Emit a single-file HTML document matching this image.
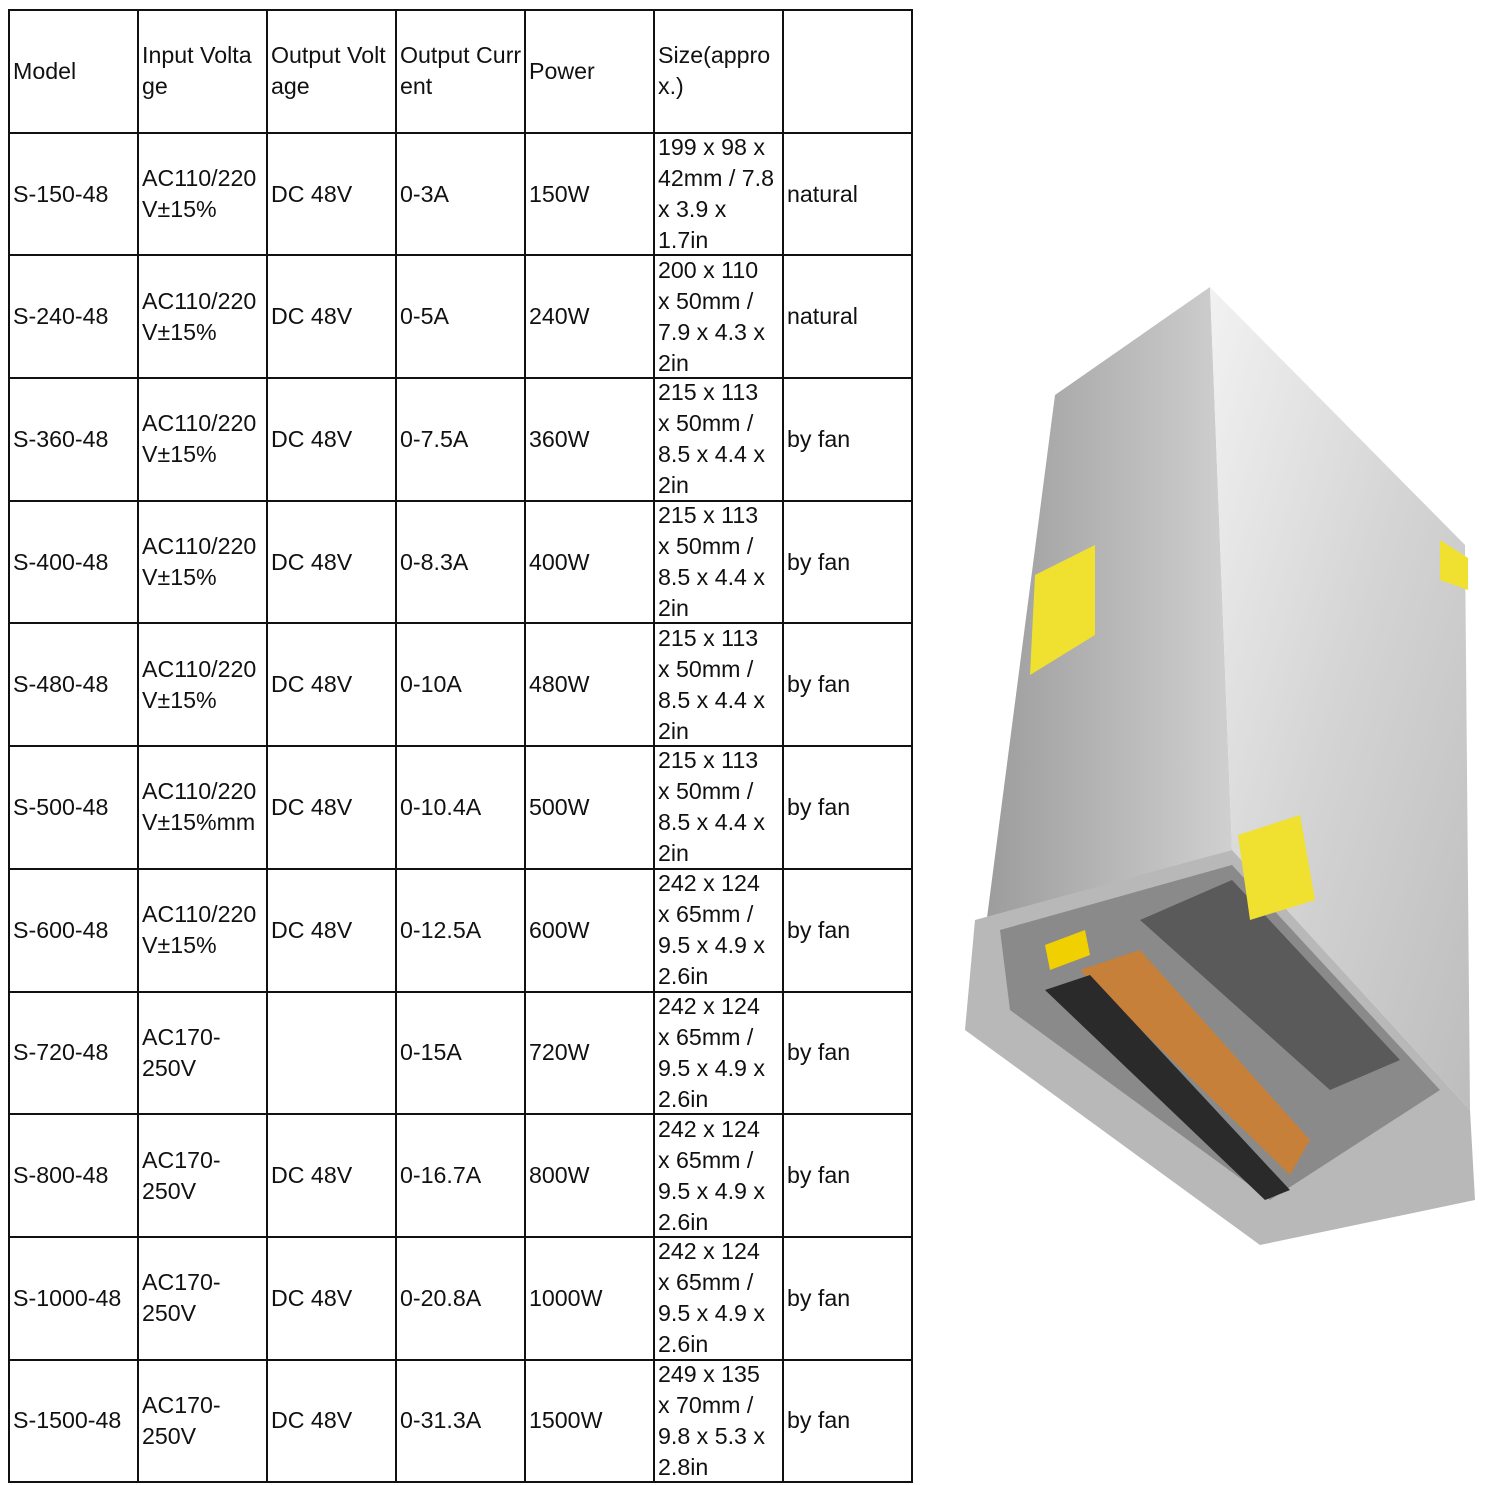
<!DOCTYPE html>
<html><head><meta charset="utf-8"><style>
html,body{margin:0;padding:0;background:#fff;width:1500px;height:1485px;overflow:hidden}
#t{position:absolute;left:8px;top:9px;display:grid;grid-template-columns:repeat(7,129px);grid-template-rows:repeat(12,122.7px);border-left:2px solid #111;border-top:2px solid #111}
#t div{box-sizing:border-box;border-right:2px solid #111;border-bottom:2px solid #111;display:flex;align-items:center;padding-left:3px;font-family:"Liberation Sans",sans-serif;font-size:23.2px;line-height:31px;color:#111;letter-spacing:0;white-space:nowrap;overflow:hidden}
svg{position:absolute;left:0;top:0}
</style></head><body>
<div id="t">
<div>Model</div><div>Input Volta<br>ge</div><div>Output Volt<br>age</div><div>Output Curr<br>ent</div><div>Power</div><div>Size(appro<br>x.)</div><div></div>
<div>S-150-48</div><div>AC110/220<br>V±15%</div><div>DC 48V</div><div>0-3A</div><div>150W</div><div>199 x 98 x<br>42mm / 7.8<br>x 3.9 x<br>1.7in</div><div>natural</div>
<div>S-240-48</div><div>AC110/220<br>V±15%</div><div>DC 48V</div><div>0-5A</div><div>240W</div><div>200 x 110<br>x 50mm /<br>7.9 x 4.3 x<br>2in</div><div>natural</div>
<div>S-360-48</div><div>AC110/220<br>V±15%</div><div>DC 48V</div><div>0-7.5A</div><div>360W</div><div>215 x 113<br>x 50mm /<br>8.5 x 4.4 x<br>2in</div><div>by fan</div>
<div>S-400-48</div><div>AC110/220<br>V±15%</div><div>DC 48V</div><div>0-8.3A</div><div>400W</div><div>215 x 113<br>x 50mm /<br>8.5 x 4.4 x<br>2in</div><div>by fan</div>
<div>S-480-48</div><div>AC110/220<br>V±15%</div><div>DC 48V</div><div>0-10A</div><div>480W</div><div>215 x 113<br>x 50mm /<br>8.5 x 4.4 x<br>2in</div><div>by fan</div>
<div>S-500-48</div><div>AC110/220<br>V±15%mm</div><div>DC 48V</div><div>0-10.4A</div><div>500W</div><div>215 x 113<br>x 50mm /<br>8.5 x 4.4 x<br>2in</div><div>by fan</div>
<div>S-600-48</div><div>AC110/220<br>V±15%</div><div>DC 48V</div><div>0-12.5A</div><div>600W</div><div>242 x 124<br>x 65mm /<br>9.5 x 4.9 x<br>2.6in</div><div>by fan</div>
<div>S-720-48</div><div>AC170-<br>250V</div><div></div><div>0-15A</div><div>720W</div><div>242 x 124<br>x 65mm /<br>9.5 x 4.9 x<br>2.6in</div><div>by fan</div>
<div>S-800-48</div><div>AC170-<br>250V</div><div>DC 48V</div><div>0-16.7A</div><div>800W</div><div>242 x 124<br>x 65mm /<br>9.5 x 4.9 x<br>2.6in</div><div>by fan</div>
<div>S-1000-48</div><div>AC170-<br>250V</div><div>DC 48V</div><div>0-20.8A</div><div>1000W</div><div>242 x 124<br>x 65mm /<br>9.5 x 4.9 x<br>2.6in</div><div>by fan</div>
<div>S-1500-48</div><div>AC170-<br>250V</div><div>DC 48V</div><div>0-31.3A</div><div>1500W</div><div>249 x 135<br>x 70mm /<br>9.8 x 5.3 x<br>2.8in</div><div>by fan</div>
</div>
<svg width="1500" height="1485">
<defs>
<linearGradient id="g1" x1="0" y1="0" x2="1" y2="1"><stop offset="0" stop-color="#f2f2f2"/><stop offset="0.5" stop-color="#d4d4d4"/><stop offset="1" stop-color="#bdbdbd"/></linearGradient>
<linearGradient id="g2" x1="0" y1="0" x2="1" y2="0"><stop offset="0" stop-color="#9a9a9a"/><stop offset="1" stop-color="#d0d0d0"/></linearGradient>
</defs>
<polygon points="1055,395 1210,287 1232,850 1000,915 975,1010" fill="url(#g2)"/>
<polygon points="1210,287 1465,545 1470,1110 1232,850" fill="url(#g1)"/>
<polygon points="975,920 1232,850 1470,1110 1475,1200 1260,1245 965,1030" fill="#b8b8b8"/>
<polygon points="1000,930 1232,865 1440,1090 1270,1200 1010,1010" fill="#8a8a8a"/>
<polygon points="1080,970 1140,950 1310,1140 1290,1175" fill="#c7803a"/>
<polygon points="1045,990 1090,975 1290,1190 1265,1200" fill="#2a2a2a"/>
<polygon points="1140,920 1232,880 1400,1060 1330,1090" fill="#5a5a5a"/>
<polygon points="1035,575 1095,545 1095,635 1030,675" fill="#f0e030"/>
<polygon points="1238,835 1300,815 1315,900 1250,920" fill="#f0e030"/>
<polygon points="1440,540 1468,558 1468,590 1440,580" fill="#f0e030"/>
<polygon points="1045,945 1085,930 1090,955 1050,970" fill="#f0d000"/>
</svg>
</body></html>
